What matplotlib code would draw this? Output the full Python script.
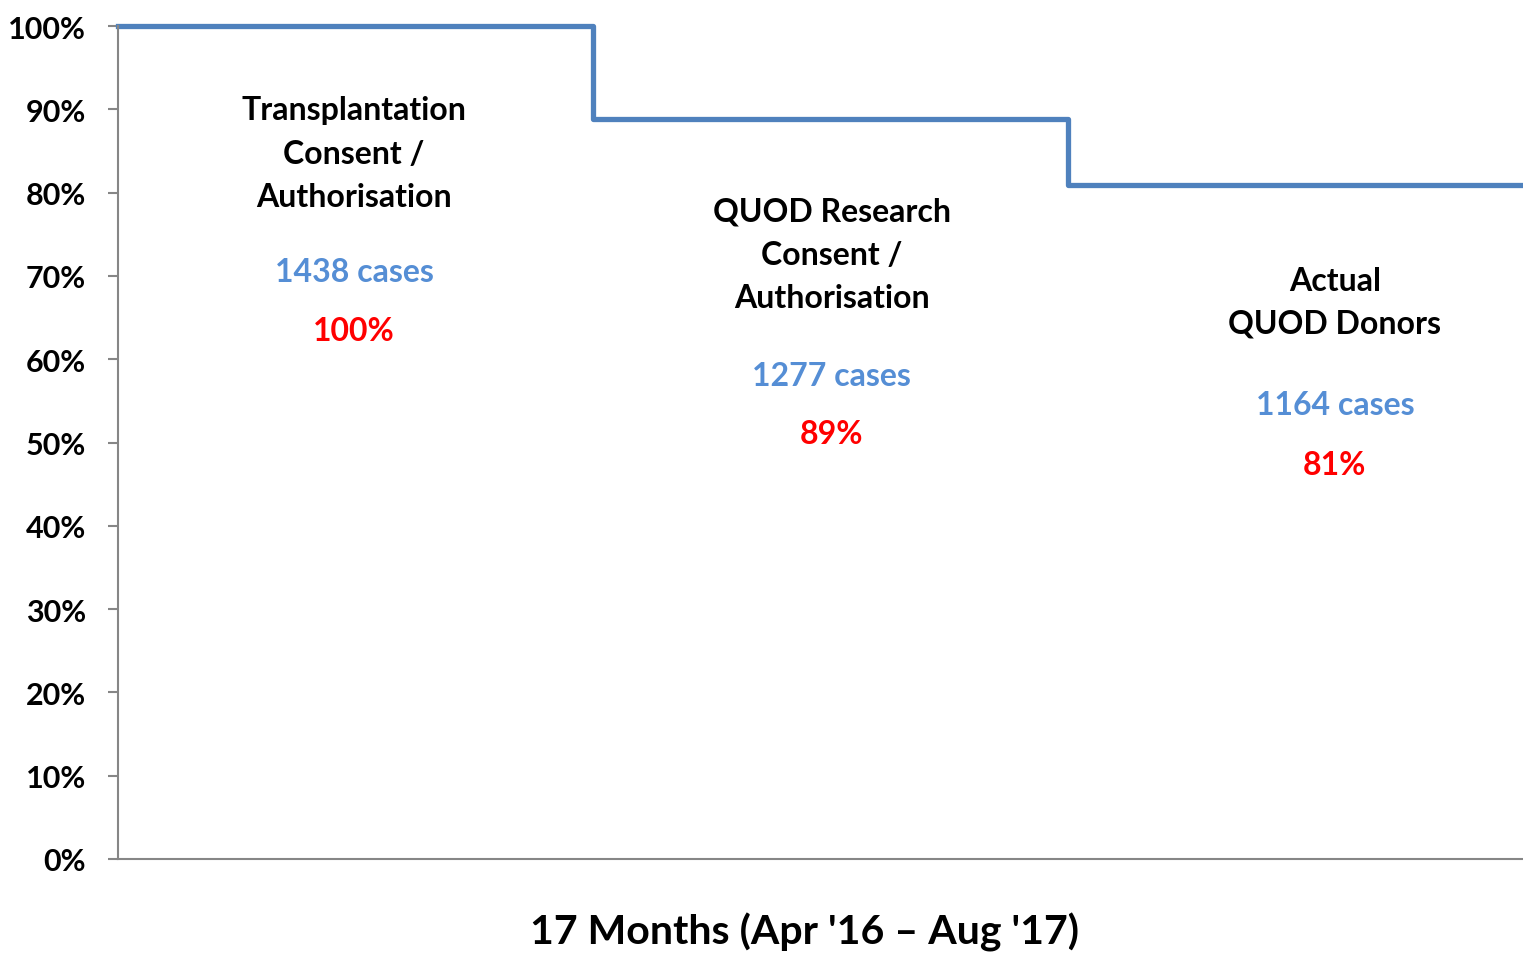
import matplotlib.pyplot as plt
from matplotlib.ticker import PercentFormatter

plt.rcParams['font.family'] = ['Lato', 'DejaVu Sans']
plt.rcParams['font.weight'] = 'bold'

stages = ['Transplantation\nConsent /\nAuthorisation',
          'QUOD Research\nConsent /\nAuthorisation',
          'Actual\nQUOD Donors']
cases = [1438, 1277, 1164]
pct = [1.0, 0.888, 0.809]
pct_labels = ['100%', '89%', '81%']

# where the annotation blocks sit (x in step units, y as fraction)
label_x = [0.497, 1.503, 2.562]
title_y = [0.8475, 0.726, 0.669]
cases_y = [0.7047, 0.581, 0.546]
pct_y = [0.634, 0.511, 0.474]

fig = plt.figure(figsize=(15.23, 9.54), dpi=100)
ax = fig.add_axes([118/1523, 94/954, 1 - 118/1523, 833/954])

xs = list(range(len(pct) + 1))
ys = pct + [pct[-1]]
ax.plot(xs, ys, drawstyle='steps-post', color='#4F81BD', lw=3.8, clip_on=False)

ax.set_xlim(0, 2.958)
ax.set_ylim(0, 1)
ax.set_yticks([i / 10 for i in range(11)])
ax.yaxis.set_major_formatter(PercentFormatter(1.0, decimals=0))
ax.set_xticks([])
ax.tick_params(axis='y', length=7, width=1.5, color='#868686', labelsize=22, pad=16)
for lab in ax.get_yticklabels():
    lab.set_fontweight('bold')
for s in ['top', 'right']:
    ax.spines[s].set_visible(False)
for s in ['left', 'bottom']:
    ax.spines[s].set_color('#868686')
    ax.spines[s].set_linewidth(1.5)

for i in range(len(stages)):
    ax.text(label_x[i], title_y[i], stages[i], ha='center', va='center',
            fontsize=23, fontweight='bold', linespacing=1.6)
    ax.text(label_x[i], cases_y[i], f'{cases[i]} cases', ha='center', va='center',
            fontsize=23, fontweight='bold', color='#558ED5')
    ax.text(label_x[i], pct_y[i], pct_labels[i], ha='center', va='center',
            fontsize=23, fontweight='bold', color='#FF0000')

fig.text(805/1523, 22/954, "17 Months (Apr '16 \u2013 Aug '17)", ha='center', va='center',
         fontsize=29.5, fontweight='bold')

fig.savefig('out.png', dpi=100)
